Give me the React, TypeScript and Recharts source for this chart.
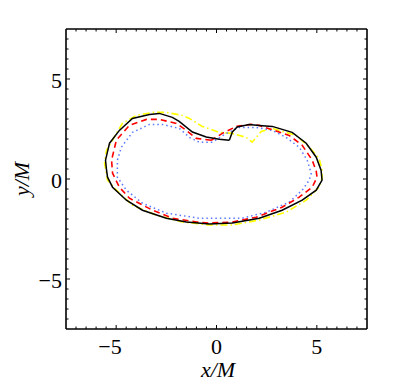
import React from "react"
import { LineChart, Line, XAxis, YAxis } from "recharts"

type Pt = { x: number; y: number }

// orbit traces (units of M)
const blackOrbit: Pt[] = [
  { x: 0.64, y: 1.94 }, { x: 0.14, y: 1.99 }, { x: -0.51, y: 2.1 }, { x: -1.2, y: 2.35 },
  { x: -1.86, y: 2.88 }, { x: -2.2, y: 3.08 }, { x: -2.85, y: 3.28 }, { x: -3.34, y: 3.23 },
  { x: -4.19, y: 3.03 }, { x: -4.84, y: 2.43 }, { x: -5.33, y: 1.79 }, { x: -5.53, y: 0.94 },
  { x: -5.48, y: 0.44 }, { x: -5.43, y: 0.09 }, { x: -5.18, y: -0.41 }, { x: -4.49, y: -1.06 },
  { x: -3.69, y: -1.56 }, { x: -2.5, y: -1.96 }, { x: -1.5, y: -2.15 }, { x: -0.36, y: -2.25 },
  { x: 0.79, y: -2.2 }, { x: 2.13, y: -1.96 }, { x: 3.27, y: -1.56 }, { x: 4.27, y: -1.06 },
  { x: 4.97, y: -0.56 }, { x: 5.26, y: -0.06 }, { x: 5.21, y: 0.44 }, { x: 4.97, y: 1.09 },
  { x: 4.47, y: 1.79 }, { x: 3.77, y: 2.33 }, { x: 2.78, y: 2.63 }, { x: 2.13, y: 2.68 },
  { x: 1.63, y: 2.72 }, { x: 1.03, y: 2.6 }, { x: 0.79, y: 2.35 }, { x: 0.64, y: 1.94 },
]

const redOrbit: Pt[] = [
  { x: -0.26, y: 1.94 }, { x: -1.0, y: 2.03 }, { x: -1.5, y: 2.43 }, { x: -2.0, y: 2.78 },
  { x: -2.85, y: 2.98 }, { x: -3.49, y: 2.98 }, { x: -4.34, y: 2.68 }, { x: -4.99, y: 1.94 },
  { x: -5.23, y: 0.94 }, { x: -5.18, y: 0.29 }, { x: -4.84, y: -0.41 }, { x: -4.34, y: -0.96 },
  { x: -3.19, y: -1.56 }, { x: -2.2, y: -1.96 }, { x: -1.0, y: -2.15 }, { x: -0.36, y: -2.2 },
  { x: 0.79, y: -2.15 }, { x: 1.98, y: -1.91 }, { x: 3.27, y: -1.41 }, { x: 4.12, y: -0.91 },
  { x: 4.77, y: -0.41 }, { x: 5.01, y: 0.09 }, { x: 4.97, y: 0.39 }, { x: 4.77, y: 0.94 },
  { x: 4.27, y: 1.69 }, { x: 3.62, y: 2.18 }, { x: 2.13, y: 2.68 }, { x: 1.73, y: 2.73 },
  { x: 0.99, y: 2.63 }, { x: 0.29, y: 2.28 }, { x: -0.26, y: 1.94 },
]

const blueOrbit: Pt[] = [
  { x: -0.21, y: 1.84 }, { x: -0.86, y: 1.84 }, { x: -1.35, y: 2.08 }, { x: -1.85, y: 2.53 },
  { x: -2.7, y: 2.73 }, { x: -3.34, y: 2.73 }, { x: -4.19, y: 2.33 }, { x: -4.74, y: 1.59 },
  { x: -4.94, y: 0.94 }, { x: -4.94, y: 0.09 }, { x: -4.49, y: -0.56 }, { x: -3.69, y: -1.21 },
  { x: -2.5, y: -1.71 }, { x: -0.86, y: -1.96 }, { x: 1.28, y: -1.96 }, { x: 2.48, y: -1.66 },
  { x: 3.62, y: -1.16 }, { x: 4.27, y: -0.56 }, { x: 4.62, y: -0.06 }, { x: 4.72, y: 0.29 },
  { x: 4.52, y: 0.94 }, { x: 4.12, y: 1.59 }, { x: 3.47, y: 2.08 }, { x: 2.78, y: 2.43 },
  { x: 1.98, y: 2.58 }, { x: 1.13, y: 2.58 }, { x: 0.49, y: 2.28 }, { x: -0.21, y: 1.84 },
]

const yellowOrbit: Pt[] = [
  { x: 0.79, y: 2.28 }, { x: 0.14, y: 2.33 }, { x: -0.71, y: 2.63 }, { x: -1.35, y: 3.03 },
  { x: -1.7, y: 3.18 }, { x: -2.5, y: 3.33 }, { x: -3.19, y: 3.33 }, { x: -3.99, y: 3.18 },
  { x: -4.69, y: 2.78 }, { x: -5.48, y: 1.44 }, { x: -5.58, y: 0.79 }, { x: -5.43, y: -0.06 },
  { x: -4.99, y: -0.56 }, { x: -4.19, y: -1.31 }, { x: -3.0, y: -1.81 }, { x: -1.7, y: -2.15 },
  { x: -0.36, y: -2.3 }, { x: 0.79, y: -2.3 }, { x: 2.13, y: -2.05 }, { x: 3.47, y: -1.66 },
  { x: 4.47, y: -1.06 }, { x: 5.11, y: -0.41 }, { x: 5.26, y: 0.04 }, { x: 5.26, y: 0.44 },
  { x: 5.11, y: 1.04 }, { x: 4.62, y: 1.59 }, { x: 3.97, y: 2.18 }, { x: 2.78, y: 2.53 },
  { x: 2.23, y: 2.38 }, { x: 1.78, y: 1.84 }, { x: 1.48, y: 2.08 }, { x: 0.79, y: 2.28 },
]

const axisTicks = [
  -7, -6.5, -6, -5.5, -5, -4.5, -4, -3.5, -3, -2.5, -2, -1.5, -1, -0.5, 0,
  0.5, 1, 1.5, 2, 2.5, 3, 3.5, 4, 4.5, 5, 5.5, 6, 6.5, 7,
]
const majorTicks = [-5, 0, 5]
const majorLabels = ["\u22125", "0", "5"]

const DOMAIN: [number, number] = [-7.5, 7.5]
const FONT = '"Liberation Serif", "Times New Roman", serif'
const axisLine = { stroke: "#000", strokeWidth: 1.6 }
const textStyle = { fontFamily: FONT, fontSize: 22 }

const labelFor = (v: number) => {
  const i = majorTicks.indexOf(v)
  return i < 0 ? null : majorLabels[i]
}

function BottomTick({ x, y, payload }: any) {
  const lbl = labelFor(payload.value)
  return (
    <g>
      <line x1={x} x2={x} y1={y} y2={y - (lbl ? 4 : 2.5)} stroke="#000" />
      {lbl && (
        <text x={x + 5.5} y={y + 25} textAnchor="end" style={textStyle} fill="#000">
          {lbl}
        </text>
      )}
    </g>
  )
}

function TopTick({ x, y, payload }: any) {
  const major = majorTicks.includes(payload.value)
  return <line x1={x} x2={x} y1={y} y2={y + (major ? 4 : 2.5)} stroke="#000" />
}

function LeftTick({ x, y, payload }: any) {
  const lbl = labelFor(payload.value)
  return (
    <g>
      <line x1={x} x2={x + (lbl ? 4 : 2.5)} y1={y} y2={y} stroke="#000" />
      {lbl && (
        <text x={x - 4} y={y + 9} textAnchor="end" style={textStyle} fill="#000">
          {lbl}
        </text>
      )}
    </g>
  )
}

function RightTick({ x, y, payload }: any) {
  const major = majorTicks.includes(payload.value)
  return <line x1={x} x2={x - (major ? 4 : 2.5)} y1={y} y2={y} stroke="#000" />
}

export default function App() {
  return (
    <div style={{ position: "absolute", left: 0, top: 0, width: 418, height: 382, background: "#fff" }}>
      <LineChart width={418} height={382} margin={{ top: 28, right: 50, bottom: 0, left: 0 }}>
        <XAxis
          xAxisId="b"
          dataKey="x"
          type="number"
          domain={DOMAIN}
          ticks={axisTicks}
          interval={0}
          allowDataOverflow
          height={53}
          tickSize={0}
          tickMargin={0}
          tickLine={false}
          axisLine={axisLine}
          tick={(p: any) => <BottomTick {...p} />}
          label={{
            content: () => (
              <text x={218} y={377} textAnchor="middle" style={{ ...textStyle, fontStyle: "italic" }} fill="#000">
                x/M
              </text>
            ),
          }}
        />
        <XAxis
          xAxisId="t"
          orientation="top"
          dataKey="x"
          type="number"
          domain={DOMAIN}
          ticks={axisTicks}
          interval={0}
          allowDataOverflow
          height={1}
          tickSize={0}
          tickMargin={0}
          tickLine={false}
          axisLine={axisLine}
          tick={(p: any) => <TopTick {...p} />}
        />
        <YAxis
          yAxisId="l"
          type="number"
          domain={DOMAIN}
          ticks={axisTicks}
          interval={0}
          allowDataOverflow
          width={66}
          tickSize={0}
          tickMargin={0}
          tickLine={false}
          axisLine={axisLine}
          tick={(p: any) => <LeftTick {...p} />}
          label={{
            content: () => (
              <text
                transform="translate(28.5,179) rotate(-90)"
                textAnchor="middle"
                style={{ ...textStyle, fontStyle: "italic" }}
                fill="#000"
              >
                y/M
              </text>
            ),
          }}
        />
        <YAxis
          yAxisId="r"
          orientation="right"
          type="number"
          domain={DOMAIN}
          ticks={axisTicks}
          interval={0}
          allowDataOverflow
          width={1}
          tickSize={0}
          tickMargin={0}
          tickLine={false}
          axisLine={axisLine}
          tick={(p: any) => <RightTick {...p} />}
        />
        <Line
          data={yellowOrbit}
          dataKey="y"
          xAxisId="b"
          yAxisId="l"
          type="linear"
          stroke="#ffff00"
          strokeWidth={1.6}
          strokeDasharray="7 3 1.5 3"
          dot={false}
          isAnimationActive={false}
        />
        <Line
          data={blueOrbit}
          dataKey="y"
          xAxisId="b"
          yAxisId="l"
          type="linear"
          stroke="#5a78ff"
          strokeWidth={1.5}
          strokeDasharray="1.5 3"
          dot={false}
          isAnimationActive={false}
        />
        <Line
          data={redOrbit}
          dataKey="y"
          xAxisId="b"
          yAxisId="l"
          type="linear"
          stroke="#ff0000"
          strokeWidth={1.6}
          strokeDasharray="6 4"
          dot={false}
          isAnimationActive={false}
        />
        <Line
          data={blackOrbit}
          dataKey="y"
          xAxisId="b"
          yAxisId="l"
          type="linear"
          stroke="#000"
          strokeWidth={1.5}
          dot={false}
          isAnimationActive={false}
        />
      </LineChart>
    </div>
  )
}
